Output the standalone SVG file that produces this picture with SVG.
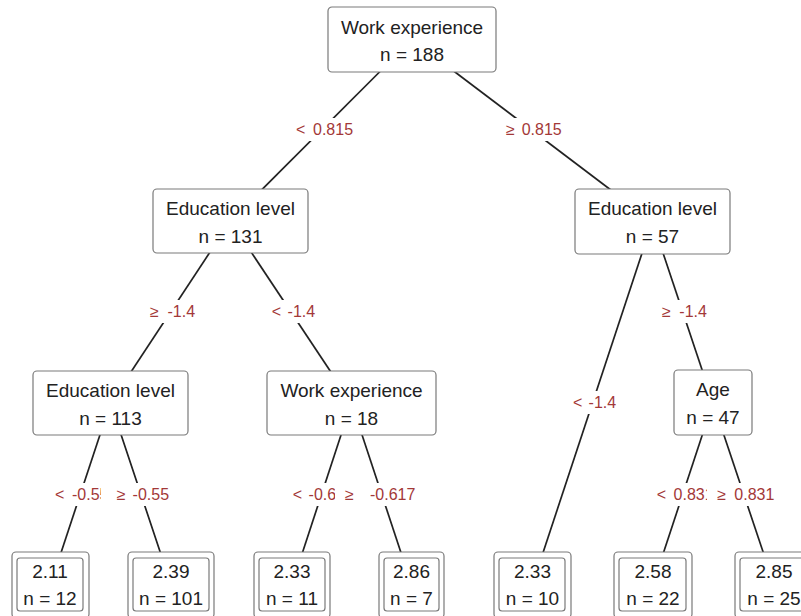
<svg xmlns="http://www.w3.org/2000/svg" width="801" height="616" viewBox="0 0 801 616">
<style>
.edge{stroke:#222;stroke-width:1.7;fill:none}
.box{fill:#fff;stroke:#7a7a7a;stroke-width:1.2}
.nt{font-family:"Liberation Sans",Arial,sans-serif;font-size:19px;fill:#222;text-anchor:middle}
.lbl{font-family:"Liberation Sans",Arial,sans-serif;font-size:16px;fill:#a33838}
.bg{fill:#fff}
</style>
<rect width="801" height="616" fill="#fff"/>
<g id="connectors">
<line class="edge" x1="412" y1="39.5" x2="230.5" y2="221"/>
<line class="edge" x1="412" y1="39.5" x2="652.5" y2="221.5"/>
<line class="edge" x1="230.5" y1="221" x2="110.5" y2="403"/>
<line class="edge" x1="230.5" y1="221" x2="351.5" y2="403"/>
<line class="edge" x1="652.5" y1="221.5" x2="532.5" y2="584.5"/>
<line class="edge" x1="652.5" y1="221.5" x2="713" y2="402.5"/>
<line class="edge" x1="110.5" y1="403" x2="50.5" y2="584.5"/>
<line class="edge" x1="110.5" y1="403" x2="171" y2="584.5"/>
<line class="edge" x1="351.5" y1="403" x2="292" y2="584.5"/>
<line class="edge" x1="351.5" y1="403" x2="411.5" y2="584.5"/>
<line class="edge" x1="713" y1="402.5" x2="653" y2="584.5"/>
<line class="edge" x1="713" y1="402.5" x2="774" y2="584.5"/>
</g>
<g id="edge-labels">
<rect class="bg" x="293" y="118" width="63" height="23"/>
<text class="lbl" y="134.5"><tspan x="296">&lt; </tspan><tspan x="313">0.815</tspan></text>
<rect class="bg" x="503" y="118" width="63" height="23"/>
<text class="lbl" y="134.5"><tspan x="506">≥ </tspan><tspan x="521.7">0.815</tspan></text>
<rect class="bg" x="147" y="300" width="51" height="23"/>
<text class="lbl" y="317"><tspan x="150">≥ </tspan><tspan x="167.5">-1.4</tspan></text>
<rect class="bg" x="269" y="300" width="49" height="23"/>
<text class="lbl" y="317"><tspan x="271.7">&lt; </tspan><tspan x="287.6">-1.4</tspan></text>
<rect class="bg" x="659" y="300" width="51" height="23"/>
<text class="lbl" y="317"><tspan x="662">≥ </tspan><tspan x="679.3">-1.4</tspan></text>
<rect class="bg" x="570" y="391" width="50" height="23"/>
<text class="lbl" y="408"><tspan x="573">&lt; </tspan><tspan x="588.6">-1.4</tspan></text>
<rect class="bg" x="52" y="483" width="60" height="23"/>
<text class="lbl" y="500"><tspan x="55">&lt; </tspan><tspan x="72">-0.55</tspan></text>
<rect class="bg" x="290" y="483" width="67" height="23"/>
<text class="lbl" y="500"><tspan x="292.7">&lt; </tspan><tspan x="308.6">-0.617</tspan></text>
<rect class="bg" x="654" y="483" width="63" height="23"/>
<text class="lbl" y="500"><tspan x="656.7">&lt; </tspan><tspan x="673.6">0.831</tspan></text>
<rect class="bg" x="101" y="483" width="72" height="23"/>
<text class="lbl" y="500"><tspan x="116.7">≥ </tspan><tspan x="132.6">-0.55</tspan></text>
<rect class="bg" x="335" y="483" width="85" height="23"/>
<text class="lbl" y="500"><tspan x="345">≥ </tspan><tspan x="370">-0.617</tspan></text>
<rect class="bg" x="707" y="483" width="70" height="23"/>
<text class="lbl" y="500"><tspan x="717.3">≥ </tspan><tspan x="734.3">0.831</tspan></text>
</g>
<g id="node1">
<rect class="box" x="328" y="7" width="168" height="65" rx="4"/>
<text class="nt" x="412" y="33.5">Work experience</text>
<text class="nt" x="412" y="61">n = 188</text>
</g>
<g id="node2">
<rect class="box" x="153" y="189" width="155" height="64" rx="4"/>
<text class="nt" x="230.5" y="214.5">Education level</text>
<text class="nt" x="230.5" y="242.5">n = 131</text>
</g>
<g id="node3">
<rect class="box" x="575" y="189" width="155" height="65" rx="4"/>
<text class="nt" x="652.5" y="215">Education level</text>
<text class="nt" x="652.5" y="243">n = 57</text>
</g>
<g id="node4">
<rect class="box" x="33" y="371" width="155" height="64" rx="4"/>
<text class="nt" x="110.5" y="396.5">Education level</text>
<text class="nt" x="110.5" y="424.5">n = 113</text>
</g>
<g id="node5">
<rect class="box" x="267" y="371" width="169" height="64" rx="4"/>
<text class="nt" x="351.5" y="396.5">Work experience</text>
<text class="nt" x="351.5" y="424.5">n = 18</text>
</g>
<g id="node6">
<rect class="box" x="674" y="370" width="78" height="65" rx="4"/>
<text class="nt" x="713" y="396">Age</text>
<text class="nt" x="713" y="423.5">n = 47</text>
</g>
<g id="leaf1">
<rect class="box" x="12" y="552" width="77" height="66" rx="4"/>
<rect class="box" x="17" y="558" width="66" height="53" rx="3"/>
<text class="nt" x="50" y="578">2.11</text>
<text class="nt" x="50" y="605">n = 12</text>
</g>
<g id="leaf2">
<rect class="box" x="128" y="552" width="86" height="66" rx="4"/>
<rect class="box" x="133" y="558" width="76" height="53" rx="3"/>
<text class="nt" x="171" y="578">2.39</text>
<text class="nt" x="171" y="605">n = 101</text>
</g>
<g id="leaf3">
<rect class="box" x="254" y="552" width="76" height="66" rx="4"/>
<rect class="box" x="259" y="558" width="66" height="53" rx="3"/>
<text class="nt" x="292" y="578">2.33</text>
<text class="nt" x="292" y="605">n = 11</text>
</g>
<g id="leaf4">
<rect class="box" x="379" y="552" width="65" height="66" rx="4"/>
<rect class="box" x="384" y="558" width="55" height="53" rx="3"/>
<text class="nt" x="411.5" y="578">2.86</text>
<text class="nt" x="411.5" y="605">n = 7</text>
</g>
<g id="leaf5">
<rect class="box" x="494" y="552" width="77" height="66" rx="4"/>
<rect class="box" x="499" y="558" width="66" height="53" rx="3"/>
<text class="nt" x="532.5" y="578">2.33</text>
<text class="nt" x="532.5" y="605">n = 10</text>
</g>
<g id="leaf6">
<rect class="box" x="614" y="552" width="78" height="66" rx="4"/>
<rect class="box" x="619" y="558" width="67" height="53" rx="3"/>
<text class="nt" x="653" y="578">2.58</text>
<text class="nt" x="653" y="605">n = 22</text>
</g>
<g id="leaf7">
<rect class="box" x="735" y="552" width="78" height="66" rx="4"/>
<rect class="box" x="740" y="558" width="67" height="53" rx="3"/>
<text class="nt" x="774" y="578">2.85</text>
<text class="nt" x="774" y="605">n = 25</text>
</g>
</svg>
